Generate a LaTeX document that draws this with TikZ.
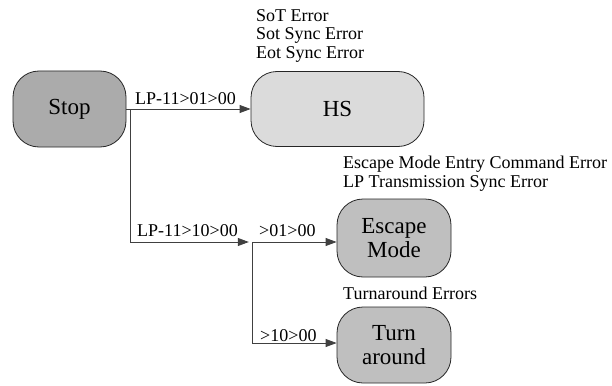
\documentclass[tikz,border=0pt]{standalone}
\usepackage{fontspec}
\setmainfont{LiberationSerif}[Extension=.ttf, UprightFont=*-Regular, BoldFont=*-Bold]
\usetikzlibrary{arrows.meta}
\begin{document}
\begin{tikzpicture}[x=1pt,y=-1pt,
  state/.style={draw=black!85, line width=0.8pt, rounded corners=26pt, align=center,
    font=\rmfamily\fontsize{23}{24}\selectfont, inner sep=0pt},
  note/.style={anchor=north west, align=left, inner sep=0pt,
    font=\rmfamily\fontsize{18}{18.7}\selectfont},
  elabel/.style={anchor=base west, inner sep=0pt, font=\rmfamily\fontsize{18}{19}\selectfont},
  conn/.style={draw=black!75, line width=0.8pt, -{Triangle[length=11pt,width=8pt]}}]
\useasboundingbox (0,0) rectangle (612,385);
\node[state, fill=black!33, minimum width=113pt, minimum height=76pt] (stop) at (69.5,109) {Stop};
\node[state, fill=black!14, minimum width=173pt, minimum height=75pt] (hs) at (337.5,109) {HS};
\node[state, fill=black!25, minimum width=114pt, minimum height=78pt] (esc) at (394,238) {Escape\\Mode};
\node[state, fill=black!25, minimum width=114pt, minimum height=76pt] (turn) at (394,345) {Turn\\around};
\node[inner sep=0pt, minimum size=6pt, circle] (jn) at (252,242) {};

\draw[conn] (stop.east) -- (hs.west);
\draw[conn] ([xshift=4pt]stop.east) |- (jn.west);
\draw[conn] (jn.center) -- (esc.west |- jn.center);
\draw[conn] (jn.center) |- ([yshift=2pt]turn.west);

\node[elabel] (l1) at (135,105) {LP-11>01>00};
\node[elabel] (l2) at (137,236) {LP-11>10>00};
\node[elabel] (l3) at (259,236) {>01>00};
\node[elabel] (l4) at (260,341) {>10>00};

\node[note] (n1) at (256,9) {SoT Error\\Sot Sync Error\\Eot Sync Error};
\node[note] (n2) at (343,156) {Escape Mode Entry Command Error\\LP Transmission Sync Error};
\node[note] (n3) at (343,287) {Turnaround Errors};
\end{tikzpicture}
\end{document}
